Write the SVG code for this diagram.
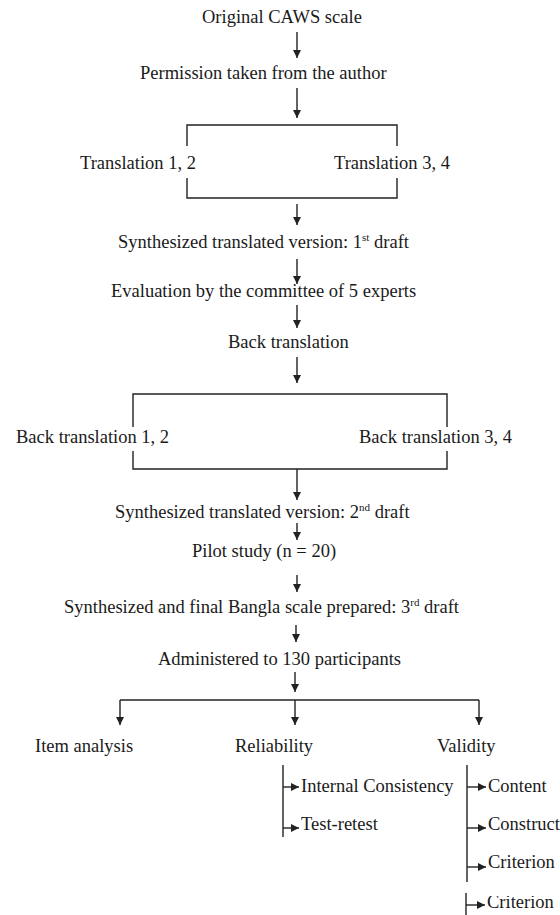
<svg xmlns="http://www.w3.org/2000/svg" width="560" height="915" viewBox="0 0 560 915">
<style>
  text { font-family: "Liberation Serif", "Times New Roman", serif; font-size: 18.5px; fill: #1a1a1a; }
  .sup { font-size: 11px; }
  .ln { stroke: #222; stroke-width: 1.4; fill: none; }
  .ar { stroke: #222; stroke-width: 1.4; fill: none; marker-end: url(#ah); }
</style>
<defs>
  <marker id="ah" viewBox="0 0 10 10" refX="10" refY="5" markerWidth="9" markerHeight="8" markerUnits="userSpaceOnUse" orient="auto">
    <path d="M0,0 L10,5 L0,10 z" fill="#222"/>
  </marker>
  <clipPath id="cut"><rect x="440" y="896" width="120" height="19"/></clipPath>
</defs>
<rect width="560" height="915" fill="#ffffff"/>

<g id="connectors">
  <line class="ar" x1="297" y1="32" x2="297" y2="58"/>
  <line class="ar" x1="297" y1="88" x2="297" y2="118"/>
  <polyline class="ln" points="187,146 187,125 397,125 397,146"/>
  <polyline class="ln" points="187,178 187,198 397,198 397,178"/>
  <line class="ar" x1="297" y1="204" x2="297" y2="225"/>
  <line class="ar" x1="297" y1="259" x2="297" y2="284"/>
  <line class="ar" x1="297" y1="305" x2="297" y2="328"/>
  <line class="ar" x1="297" y1="357" x2="297" y2="383"/>
  <polyline class="ln" points="133,427 133,394 447,394 447,427"/>
  <polyline class="ln" points="133,451 133,469 447,469 447,451"/>
  <line class="ar" x1="297" y1="469" x2="297" y2="500"/>
  <line class="ar" x1="297" y1="523" x2="297" y2="540"/>
  <line class="ar" x1="297" y1="575" x2="297" y2="592"/>
  <line class="ar" x1="296" y1="625" x2="296" y2="642"/>
  <line class="ar" x1="295" y1="672" x2="295" y2="692"/>
  <line class="ln" x1="120" y1="700" x2="479" y2="700"/>
  <line class="ar" x1="120" y1="700" x2="120" y2="725"/>
  <line class="ar" x1="295" y1="700" x2="295" y2="725"/>
  <line class="ar" x1="479" y1="700" x2="479" y2="725"/>
  <line class="ln" x1="283" y1="765" x2="283" y2="837"/>
  <line class="ar" x1="283" y1="787" x2="299" y2="787"/>
  <line class="ar" x1="283" y1="828" x2="299" y2="828"/>
  <line class="ln" x1="467" y1="765" x2="467" y2="882"/>
  <line class="ar" x1="467" y1="787" x2="486" y2="787"/>
  <line class="ar" x1="467" y1="828" x2="486" y2="828"/>
  <line class="ar" x1="467" y1="867" x2="486" y2="867"/>
  <line class="ln" x1="466" y1="893" x2="466" y2="915"/>
  <line class="ar" x1="466" y1="905" x2="485" y2="905"/>
</g>

<g id="n-original"><text x="202" y="23">Original CAWS scale</text></g>
<g id="n-permission"><text x="140" y="79">Permission taken from the author</text></g>
<g id="n-translation12"><text x="80" y="169">Translation 1, 2</text></g>
<g id="n-translation34"><text x="334" y="169">Translation 3, 4</text></g>
<g id="n-draft1"><text x="118" y="248">Synthesized translated version: 1<tspan class="sup" dy="-7">st</tspan><tspan dy="7"> draft</tspan></text></g>
<g id="n-evaluation"><text x="111" y="297">Evaluation by the committee of 5 experts</text></g>
<g id="n-back"><text x="228" y="348">Back translation</text></g>
<g id="n-back12"><text x="16" y="443">Back translation 1, 2</text></g>
<g id="n-back34"><text x="359" y="443">Back translation 3, 4</text></g>
<g id="n-draft2"><text x="115" y="518">Synthesized translated version: 2<tspan class="sup" dy="-7">nd</tspan><tspan dy="7"> draft</tspan></text></g>
<g id="n-pilot"><text x="192" y="557">Pilot study (n = 20)</text></g>
<g id="n-draft3"><text x="64" y="613">Synthesized and final Bangla scale prepared: 3<tspan class="sup" dy="-7">rd</tspan><tspan dy="7"> draft</tspan></text></g>
<g id="n-administered"><text x="158" y="665">Administered to 130 participants</text></g>
<g id="n-item"><text x="35" y="752">Item analysis</text></g>
<g id="n-reliability"><text x="235" y="752">Reliability</text></g>
<g id="n-validity"><text x="437" y="752">Validity</text></g>
<g id="n-internal"><text x="301" y="792">Internal Consistency</text></g>
<g id="n-testretest"><text x="301" y="830">Test-retest</text></g>
<g id="n-content"><text x="488" y="792">Content</text></g>
<g id="n-construct"><text x="488" y="830">Construct</text></g>
<g id="n-criterion"><text x="488" y="868">Criterion</text></g>
<g id="n-criterion2"><text x="487" y="908" clip-path="url(#cut)">Criterion</text></g>
</svg>
